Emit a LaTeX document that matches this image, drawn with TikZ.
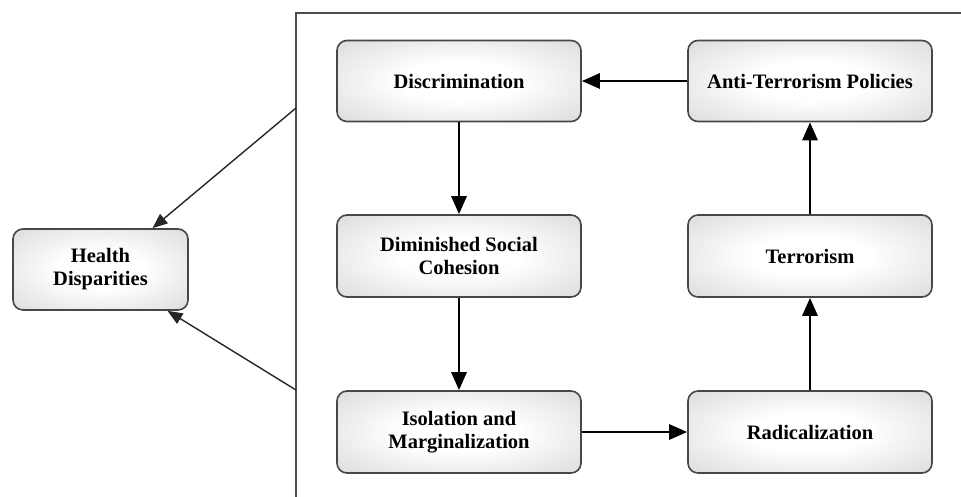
\documentclass[tikz,border=0pt]{standalone}
\usepackage{fontspec}
\setmainfont{Liberation Serif}
\usetikzlibrary{arrows.meta}
\pgfdeclareradialshading{boxglow}{\pgfpoint{0bp}{0bp}}{color(0bp)=(white); color(12bp)=(white); color(50bp)=(black!22); color(72bp)=(black!27)}
\tikzset{
  box/.style={draw=black!72, line width=1.6pt, rounded corners=10pt,
    shading=boxglow,
    minimum width=244pt, minimum height=81pt, align=center,
    font=\bfseries\fontsize{20.5}{23}\selectfont, inner sep=2pt},
  flow/.style={line width=2.8pt, black, -{Triangle[length=18pt,width=15pt]}},
  thin/.style={line width=1.4pt, black!85, -{Triangle[length=15pt,width=12pt]}},
  frame/.style={line width=1.6pt, black!70}
}
\begin{document}
\begin{tikzpicture}[x=1pt,y=-1pt]
\useasboundingbox (0,0) rectangle (961,496);
% frame
\coordinate (ftop) at (296,13);
\coordinate (fright) at (965,13);
\coordinate (fbottom) at (296,500);
\draw[frame] (fright) -- (ftop) -- (fbottom);
\coordinate (f1) at (296,108);
\coordinate (f2) at (296,390);
% nodes
\node[box, minimum width=175pt] (hd) at (100.5,269.5) {Health\\Disparities};
\node[box] (disc) at (459,81) {Discrimination};
\node[box] (anti) at (810,81) {Anti-Terrorism Policies};
\node[box, minimum height=82pt] (dsc) at (459,256) {Diminished Social\\Cohesion};
\node[box, minimum height=82pt] (terr) at (810,256) {Terrorism};
\node[box, minimum height=82pt] (iso) at (459,432) {Isolation and\\Marginalization};
\node[box, minimum height=82pt] (rad) at (810,432) {Radicalization};
% flows
\draw[flow] (disc) -- (dsc);
\draw[flow] (dsc) -- (iso);
\draw[flow] (iso) -- (rad);
\draw[flow] (rad) -- (terr);
\draw[flow] (terr) -- (anti);
\draw[flow] (anti) -- (disc);
% to health
\draw[thin] (f1) -- ([xshift=52pt]hd.north);
\draw[thin] (f2) -- ([xshift=67pt]hd.south);
\end{tikzpicture}
\end{document}
